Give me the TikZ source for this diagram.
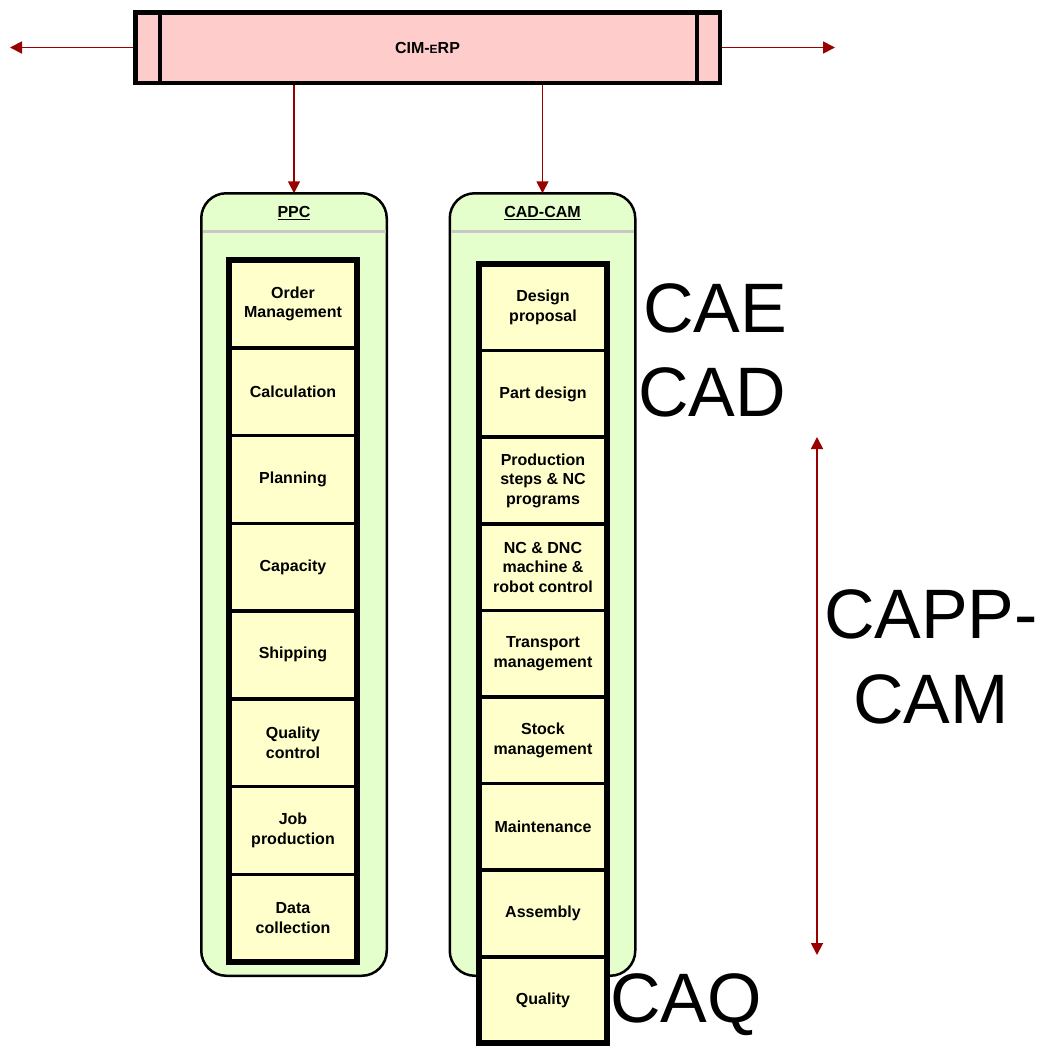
\documentclass[tikz,border=0pt]{standalone}
\usepackage{fontspec}
\setmainfont{Liberation Sans}
\usepackage{xcolor}
\usepackage{tikz}
\usetikzlibrary{arrows.meta}
\definecolor{erpfill}{HTML}{FFCCCC}
\definecolor{groupfill}{HTML}{E5FFCC}
\definecolor{taskfill}{HTML}{FFFFCC}
\definecolor{linkred}{HTML}{990000}
\definecolor{rulegray}{HTML}{C8C8C8}
\tikzset{
  every node/.append style={font=\fontsize{16}{19.5}\selectfont\bfseries},
  erpbar/.style={draw,fill=erpfill,line width=4.5pt,minimum width=584.5pt,minimum height=70.5pt,inner sep=0pt},
  groupbox/.style={draw,fill=groupfill,line width=2.5pt,rounded corners=25pt,minimum width=185.5pt,minimum height=782.5pt,outer sep=0pt},
  taskbox/.style={draw,fill=taskfill,line width=3.5pt,minimum width=128pt,align=center,inner sep=0pt,outer sep=0pt},
  biglabel/.style={font=\fontsize{70}{85}\selectfont,align=center,inner sep=0pt},
  link/.style={-{Triangle[length=12pt,width=12pt]},linkred,line width=1.8pt}
}

\begin{document}
\begin{tikzpicture}[x=1pt,y=-1pt]
  \useasboundingbox (0,0) rectangle (1043,1047);
  \node[erpbar] (erp) at (427.5,47.5) {CIM-{\fontsize{12}{14}\selectfont E}RP};
  \draw[line width=4.5pt] ([xshift=27pt]erp.north west) -- ([xshift=27pt]erp.south west);
  \draw[line width=4.5pt] ([xshift=-25pt]erp.north east) -- ([xshift=-25pt]erp.south east);
  \coordinate (lefttip) at (10,47.5);
  \coordinate (righttip) at (835,47.5);
  \draw[link] (erp.west) -- (lefttip);
  \draw[link] (erp.east) -- (righttip);

  \node[groupbox] (ppc) at (294,584.5) {};
  \node[groupbox] (cam) at (542.5,584.5) {};
  \draw[link] (erp.south -| ppc.north) -- (ppc.north);
  \draw[link] (erp.south -| cam.north) -- (cam.north);
  \foreach \grp/\ttl in {ppc/PPC,cam/CAD-CAM} {
    \node (\grp title) at ([yshift=-20pt]\grp.north) {\underline{\ttl}};
    \draw[rulegray,line width=3pt] ([xshift=1.25pt,yshift=-38pt]\grp.north west)
      -- ([xshift=-1.25pt,yshift=-38pt]\grp.north east);
  }

  \foreach \txt [count=\i] in {Order\\Management,Calculation,Planning,Capacity,Shipping,
      Quality\\control,Job\\production,Data\\collection}
    \node[taskbox,minimum height=87.75pt] (ppc\i) at (293,{260+87.75*(\i-0.5)}) {\txt};
  \draw[line width=6pt] (ppc1.north west) rectangle (ppc8.south east);

  \foreach \txt [count=\i] in {Design\\proposal,Part design,Production\\steps \& NC\\programs,
      NC \& DNC\\machine \&\\robot control,Transport\\management,Stock\\management,
      Maintenance,Assembly,Quality}
    \node[taskbox,minimum height=86.6pt] (cam\i) at (543,{264+86.6*(\i-0.5)}) {\txt};
  \draw[line width=6pt] (cam1.north west) rectangle (cam9.south east);

  \node[biglabel] (cae) at (715,308) {CAE};
  \node[biglabel] (cad) at (712,392) {CAD};
  \node[biglabel] (capp) at (931,657) {CAPP-\\CAM};
  \node[biglabel] (caq) at (686,1005) {CAQ};
  \coordinate (capptop) at (817,437);
  \coordinate (cappbot) at (817,955);
  \draw[link,{Triangle[length=12pt,width=12pt]}-{Triangle[length=12pt,width=12pt]}] (capptop) -- (cappbot);
\end{tikzpicture}
\end{document}
